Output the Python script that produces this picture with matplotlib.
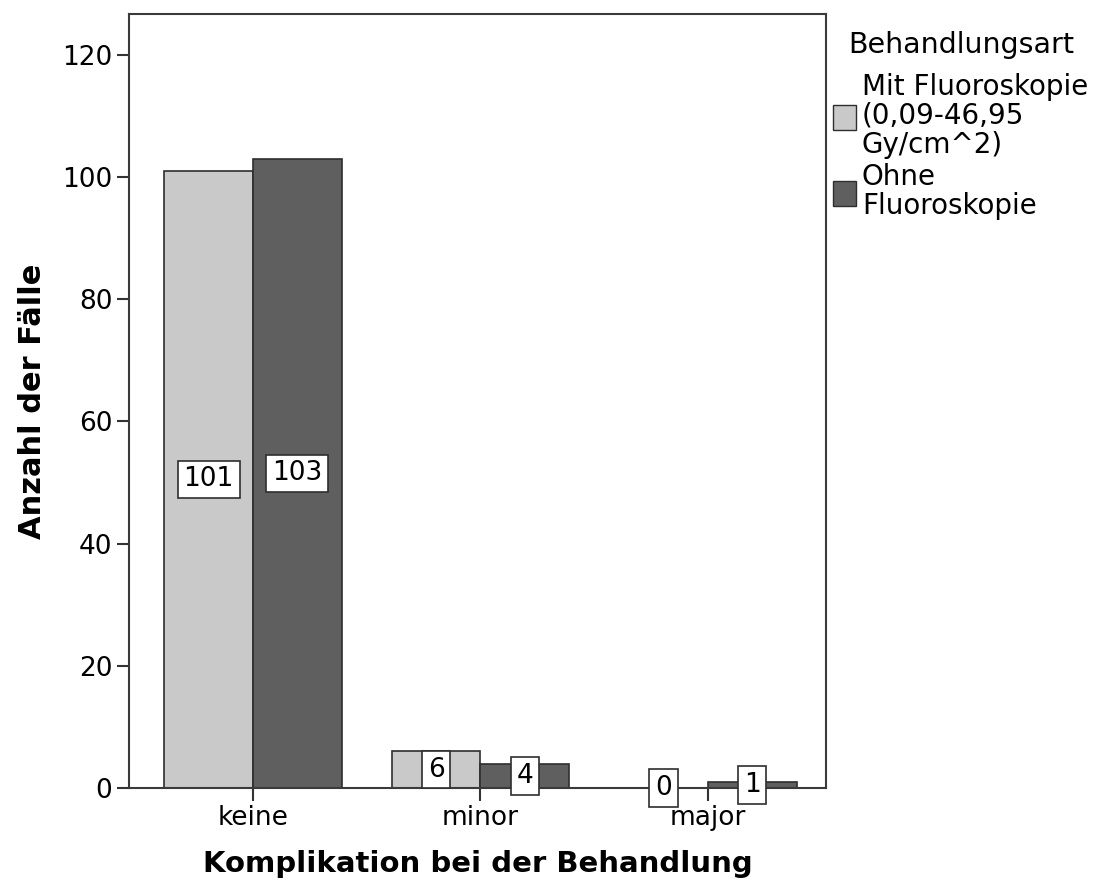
import numpy as np
import matplotlib
matplotlib.use('Agg')
import matplotlib.pyplot as plt
from matplotlib.patches import Patch

# data
categories = ['keine', 'minor', 'major']
mit_fluoro = [101, 6, 0]
ohne_fluoro = [103, 4, 1]
series_names = ['Mit Fluoroskopie\n(0,09-46,95\nGy/cm^2)', 'Ohne\nFluoroskopie']
legend_title = 'Behandlungsart'
yticks = [0, 20, 40, 60, 80, 100, 120]

LIGHT = '#c9c9c9'
DARK = '#5f5f5f'
EDGE = '#2e2e2e'

plt.rcParams['font.family'] = ['DejaVu Sans']

fig = plt.figure(figsize=(11.09, 8.88), dpi=100)
ax = fig.add_axes([129 / 1109, 1 - 788 / 888, (826 - 129) / 1109, (788 - 14) / 888])

x = np.arange(len(categories))
w = 0.39
b1 = ax.bar(x - w / 2, mit_fluoro, w, color=LIGHT, edgecolor=EDGE, linewidth=1.2)
b2 = ax.bar(x + w / 2, ohne_fluoro, w, color=DARK, edgecolor=EDGE, linewidth=1.2)

box = dict(boxstyle='square,pad=0.22', facecolor='white', edgecolor=EDGE, linewidth=1.2)
for bars, vals in ((b1, mit_fluoro), (b2, ohne_fluoro)):
    for r, v in zip(bars, vals):
        ax.text(r.get_x() + r.get_width() / 2, v / 2, str(v),
                ha='center', va='center', fontsize=19, bbox=box, zorder=5)

ax.set_xlim(-0.545, 2.519)
ax.set_ylim(0, 126.7)
ax.set_xticks(x)
ax.set_xticklabels(categories)
ax.set_yticks(yticks)
ax.tick_params(axis='both', labelsize=19, length=9, width=1.5, color='#333333', pad=3)
for s in ax.spines.values():
    s.set_linewidth(1.5)
    s.set_color('#3a3a3a')

ax.set_ylabel('Anzahl der Fälle', fontsize=22, fontweight='bold', labelpad=11)
ax.set_xlabel('Komplikation bei der Behandlung', fontsize=21, fontweight='bold', labelpad=14)

handles = [Patch(facecolor=LIGHT, edgecolor=EDGE), Patch(facecolor=DARK, edgecolor=EDGE)]
leg = fig.legend(handles, series_names, loc='upper left',
                 bbox_to_anchor=(830 / 1109, 1 - 70 / 888), frameon=False,
                 fontsize=20, handlelength=0.85, handleheight=1.0,
                 handletextpad=0.2, labelspacing=0.15, borderaxespad=0, borderpad=0.1)
for t in leg.get_texts():
    t.set_linespacing(1.05)
fig.text(848 / 1109, 1 - 45 / 888, legend_title, fontsize=20.5, ha='left', va='center')

fig.savefig('out.png', dpi=100)
